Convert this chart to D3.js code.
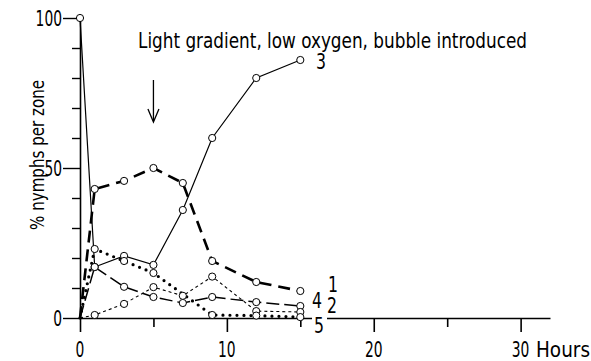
<!DOCTYPE html>
<html><head><meta charset="utf-8">
<script src="https://cdn.jsdelivr.net/npm/d3@7"></script>
<style>body{margin:0;background:#fff}svg{display:block}</style>
</head><body>
<svg id="c" width="591" height="361"></svg>
<script>
const hours = [0, 1, 3, 5, 7, 9, 12, 15];
const zone1 = [0, 43, 45.7, 50, 45, 19, 12, 9];
const zone2 = [0, 1, 4.7, 10.3, 7.4, 13.8, 2.3, 2];
const zone3 = [100, 17, 20.7, 17.7, 36, 60, 80, 86];
const zone4 = [0, 17, 10.4, 7, 5, 7, 5.3, 4];
const zone5 = [0, 23, 19, 15, null, 1, 0.8, 0.3];
const zoneNames = ["1", "2", "3", "4", "5"];
const xTicks = [0, 5, 10, 15, 20, 25, 30];
const xTickLabels = ["0", "", "10", "", "20", "", "30"];
const yTicks = [0, 10, 20, 30, 40, 50, 60, 70, 80, 90, 100];
const yTickLabels = {0: "0", 50: "50", 100: "100"};
const title = "Light gradient, low oxygen, bubble introduced";
const yTitle = "% nymphs per zone";
const xUnit = "Hours";
const arrowHour = 5;

const svg = d3.select("#c");
const font = "'DejaVu Sans Condensed','Liberation Sans Narrow','DejaVu Sans',sans-serif";
const x = d3.scaleLinear().domain([0, 32]).range([80, 550]);
const y = d3.scaleLinear().domain([0, 100]).range([318, 18]);
const digitW = 8.8;

function label(sel) {
  return sel.attr("font-family", font).attr("font-size", 20.5)
    .attr("lengthAdjust", "spacingAndGlyphs");
}

// axes
const gx = svg.append("g").attr("transform", `translate(0,${y(0)})`)
  .call(d3.axisBottom(x).tickValues(xTicks).tickFormat("").tickSizeOuter(0)
    .tickSizeInner(0));
gx.select(".domain").attr("stroke", "#000").attr("stroke-width", 1.6);
gx.selectAll(".tick").append("line").attr("y1", 0)
  .attr("y2", (d, i) => xTickLabels[i] ? 14 : 9).attr("stroke", "#000").attr("stroke-width", 1.6);

const gy = svg.append("g").attr("transform", `translate(${x(0)},0)`)
  .call(d3.axisLeft(y).tickValues(yTicks).tickFormat("").tickSizeInner(0).tickSizeOuter(0));
gy.select(".domain").attr("stroke", "#000").attr("stroke-width", 1.6);
gy.selectAll(".tick").append("line").attr("x1", 0)
  .attr("x2", d => yTickLabels[d] ? -17 : -8).attr("stroke", "#000").attr("stroke-width", 1.4);

// tick labels
label(svg.append("g").selectAll("text").data(xTicks.filter((d, i) => xTickLabels[i]))
  .join("text"))
  .attr("x", d => x(d)).attr("y", 357)
  .attr("text-anchor", "middle")
  .text(d => xTickLabels[xTicks.indexOf(d)])
  .attr("textLength", d => xTickLabels[xTicks.indexOf(d)].length * digitW);
label(svg.append("text")).attr("x", 536).attr("y", 357).attr("textLength", 54).text(xUnit);

label(svg.append("g").selectAll("text").data(yTicks.filter(d => yTickLabels[d]))
  .join("text"))
  .attr("x", 62).attr("y", d => y(d) + 7.5)
  .attr("text-anchor", "end")
  .text(d => yTickLabels[d])
  .attr("textLength", d => yTickLabels[d].length * digitW);

label(svg.append("text")).attr("transform", "translate(44,155) rotate(-90)")
  .attr("text-anchor", "middle").attr("font-size", 19)
  .attr("textLength", 150).text(yTitle);

label(svg.append("text")).attr("x", 138).attr("y", 48)
  .attr("font-size", 21.5).attr("textLength", 389)
  .text(title);

// arrow
const ax = x(arrowHour);
svg.append("line").attr("x1", ax).attr("x2", ax).attr("y1", 80).attr("y2", 121)
  .attr("stroke", "#000").attr("stroke-width", 1.3);
svg.append("path").attr("d", `M${ax - 5.5},109 L${ax},122 L${ax + 5.5},109`)
  .attr("fill", "none").attr("stroke", "#000").attr("stroke-width", 1.3);

// series
const series = [
  {name: "3", vals: zone3, w: 1.2, dash: null, cap: "butt"},
  {name: "1", vals: zone1, w: 2.6, dash: "12,7", cap: "butt"},
  {name: "4", vals: zone4, w: 1.5, dash: "13,5", cap: "butt"},
  {name: "2", vals: zone2, w: 1.1, dash: "3,3", cap: "butt"},
  {name: "5", vals: zone5, w: 3.2, dash: "0,7", cap: "round"}
];
const line = d3.line().x(d => x(d[0])).y(d => y(d[1]));
series.forEach(s => {
  const pts = hours.map((h, i) => [h, s.vals[i]]).filter(p => p[1] !== null);
  s.pts = pts;
  svg.append("path").datum(pts).attr("d", line).attr("fill", "none")
    .attr("stroke", "#000").attr("stroke-width", s.w)
    .attr("stroke-dasharray", s.dash).attr("stroke-linecap", s.cap);
});
series.forEach(s => {
  svg.append("g").selectAll("circle")
    .data(s.pts.filter(p => !(p[0] === 0 && p[1] === 0)))
    .join("circle").attr("cx", d => x(d[0])).attr("cy", d => y(d[1])).attr("r", 3.6)
    .attr("fill", "#fff").attr("stroke", "#000").attr("stroke-width", 1);
});

// zone labels
const zl = [
  {t: zoneNames[2], x: 316, y: 69},
  {t: zoneNames[0], x: 328, y: 292},
  {t: zoneNames[3], x: 312, y: 308},
  {t: zoneNames[1], x: 327, y: 313},
  {t: zoneNames[4], x: 314, y: 333}
];
svg.append("rect").attr("x", 312).attr("y", 312).attr("width", 15).attr("height", 8).attr("fill", "#fff");
label(svg.append("g").selectAll("text").data(zl).join("text"))
  .attr("x", d => d.x).attr("y", d => d.y).attr("font-size", 21)
  .attr("textLength", 10)
  .text(d => d.t);
</script>
</body></html>
